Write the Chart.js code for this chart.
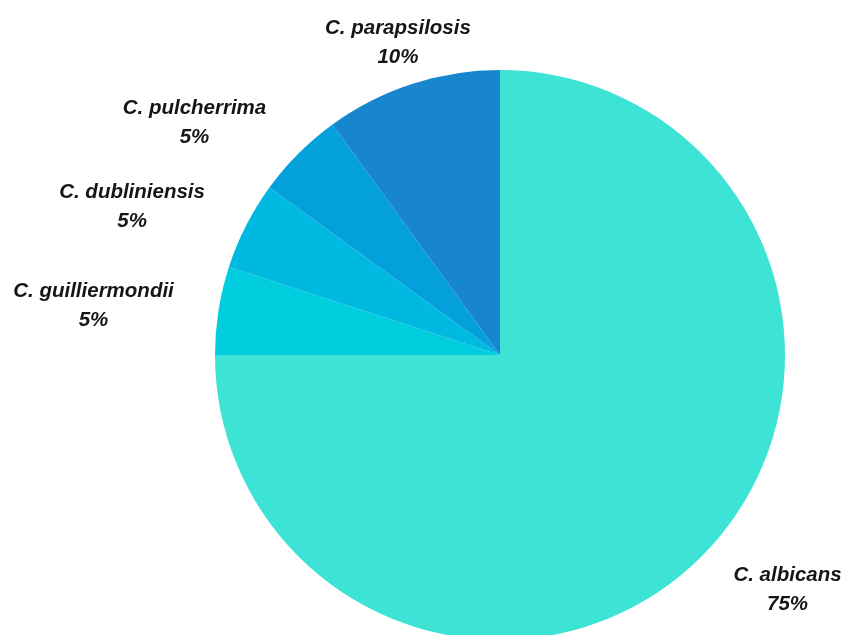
<!DOCTYPE html>
<html>
<head>
<meta charset="utf-8">
<title>Candida species</title>
<script src="https://cdn.jsdelivr.net/npm/chart.js@4.4.1/dist/chart.umd.min.js"></script>
<style>
  html, body { margin: 0; padding: 0; background: #fff; overflow: hidden; }
  #pie { display: block; }
</style>
</head>
<body>
<canvas id="pie" width="848" height="660"></canvas>
<script>
// species and their share (%)
const species = ['C. albicans', 'C. guilliermondii', 'C. dubliniensis', 'C. pulcherrima', 'C. parapsilosis'];
const shares = [75, 5, 5, 5, 10];
const sliceColors = ['#3de3d5', '#00cddd', '#00b9e0', '#03a0db', '#1786cf'];

// name baseline of each label, relative to the outer middle of its slice
const labelShift = [[86, 24], [-125, -13], [-114, -28], [-104, -39], [-14, -50]];

const outsideLabels = {
  id: 'outsideLabels',
  afterDatasetsDraw(chart) {
    const ctx = chart.ctx;
    const arcs = chart.getDatasetMeta(0).data;
    ctx.save();
    ctx.fillStyle = '#161616';
    ctx.font = 'italic bold 20.5px "Liberation Sans", Arial, sans-serif';
    ctx.textAlign = 'center';
    ctx.textBaseline = 'alphabetic';
    arcs.forEach((arc, i) => {
      const { x, y, startAngle, endAngle, outerRadius } = arc.getProps(['x', 'y', 'startAngle', 'endAngle', 'outerRadius'], true);
      const mid = (startAngle + endAngle) / 2;
      const px = x + Math.cos(mid) * outerRadius + labelShift[i][0];
      const py = y + Math.sin(mid) * outerRadius + labelShift[i][1];
      ctx.fillText(species[i], px, py);
      ctx.fillText(shares[i] + '%', px, py + 29);
    });
    ctx.restore();
  }
};

new Chart(document.getElementById('pie'), {
  type: 'pie',
  data: {
    labels: species,
    datasets: [{
      data: shares,
      backgroundColor: sliceColors,
      borderWidth: 0
    }]
  },
  options: {
    responsive: false,
    animation: false,
    layout: { padding: { left: 215, right: 63, top: 70, bottom: 20 } },
    plugins: {
      legend: { display: false },
      tooltip: { enabled: false }
    }
  },
  plugins: [outsideLabels]
});
</script>
</body>
</html>
